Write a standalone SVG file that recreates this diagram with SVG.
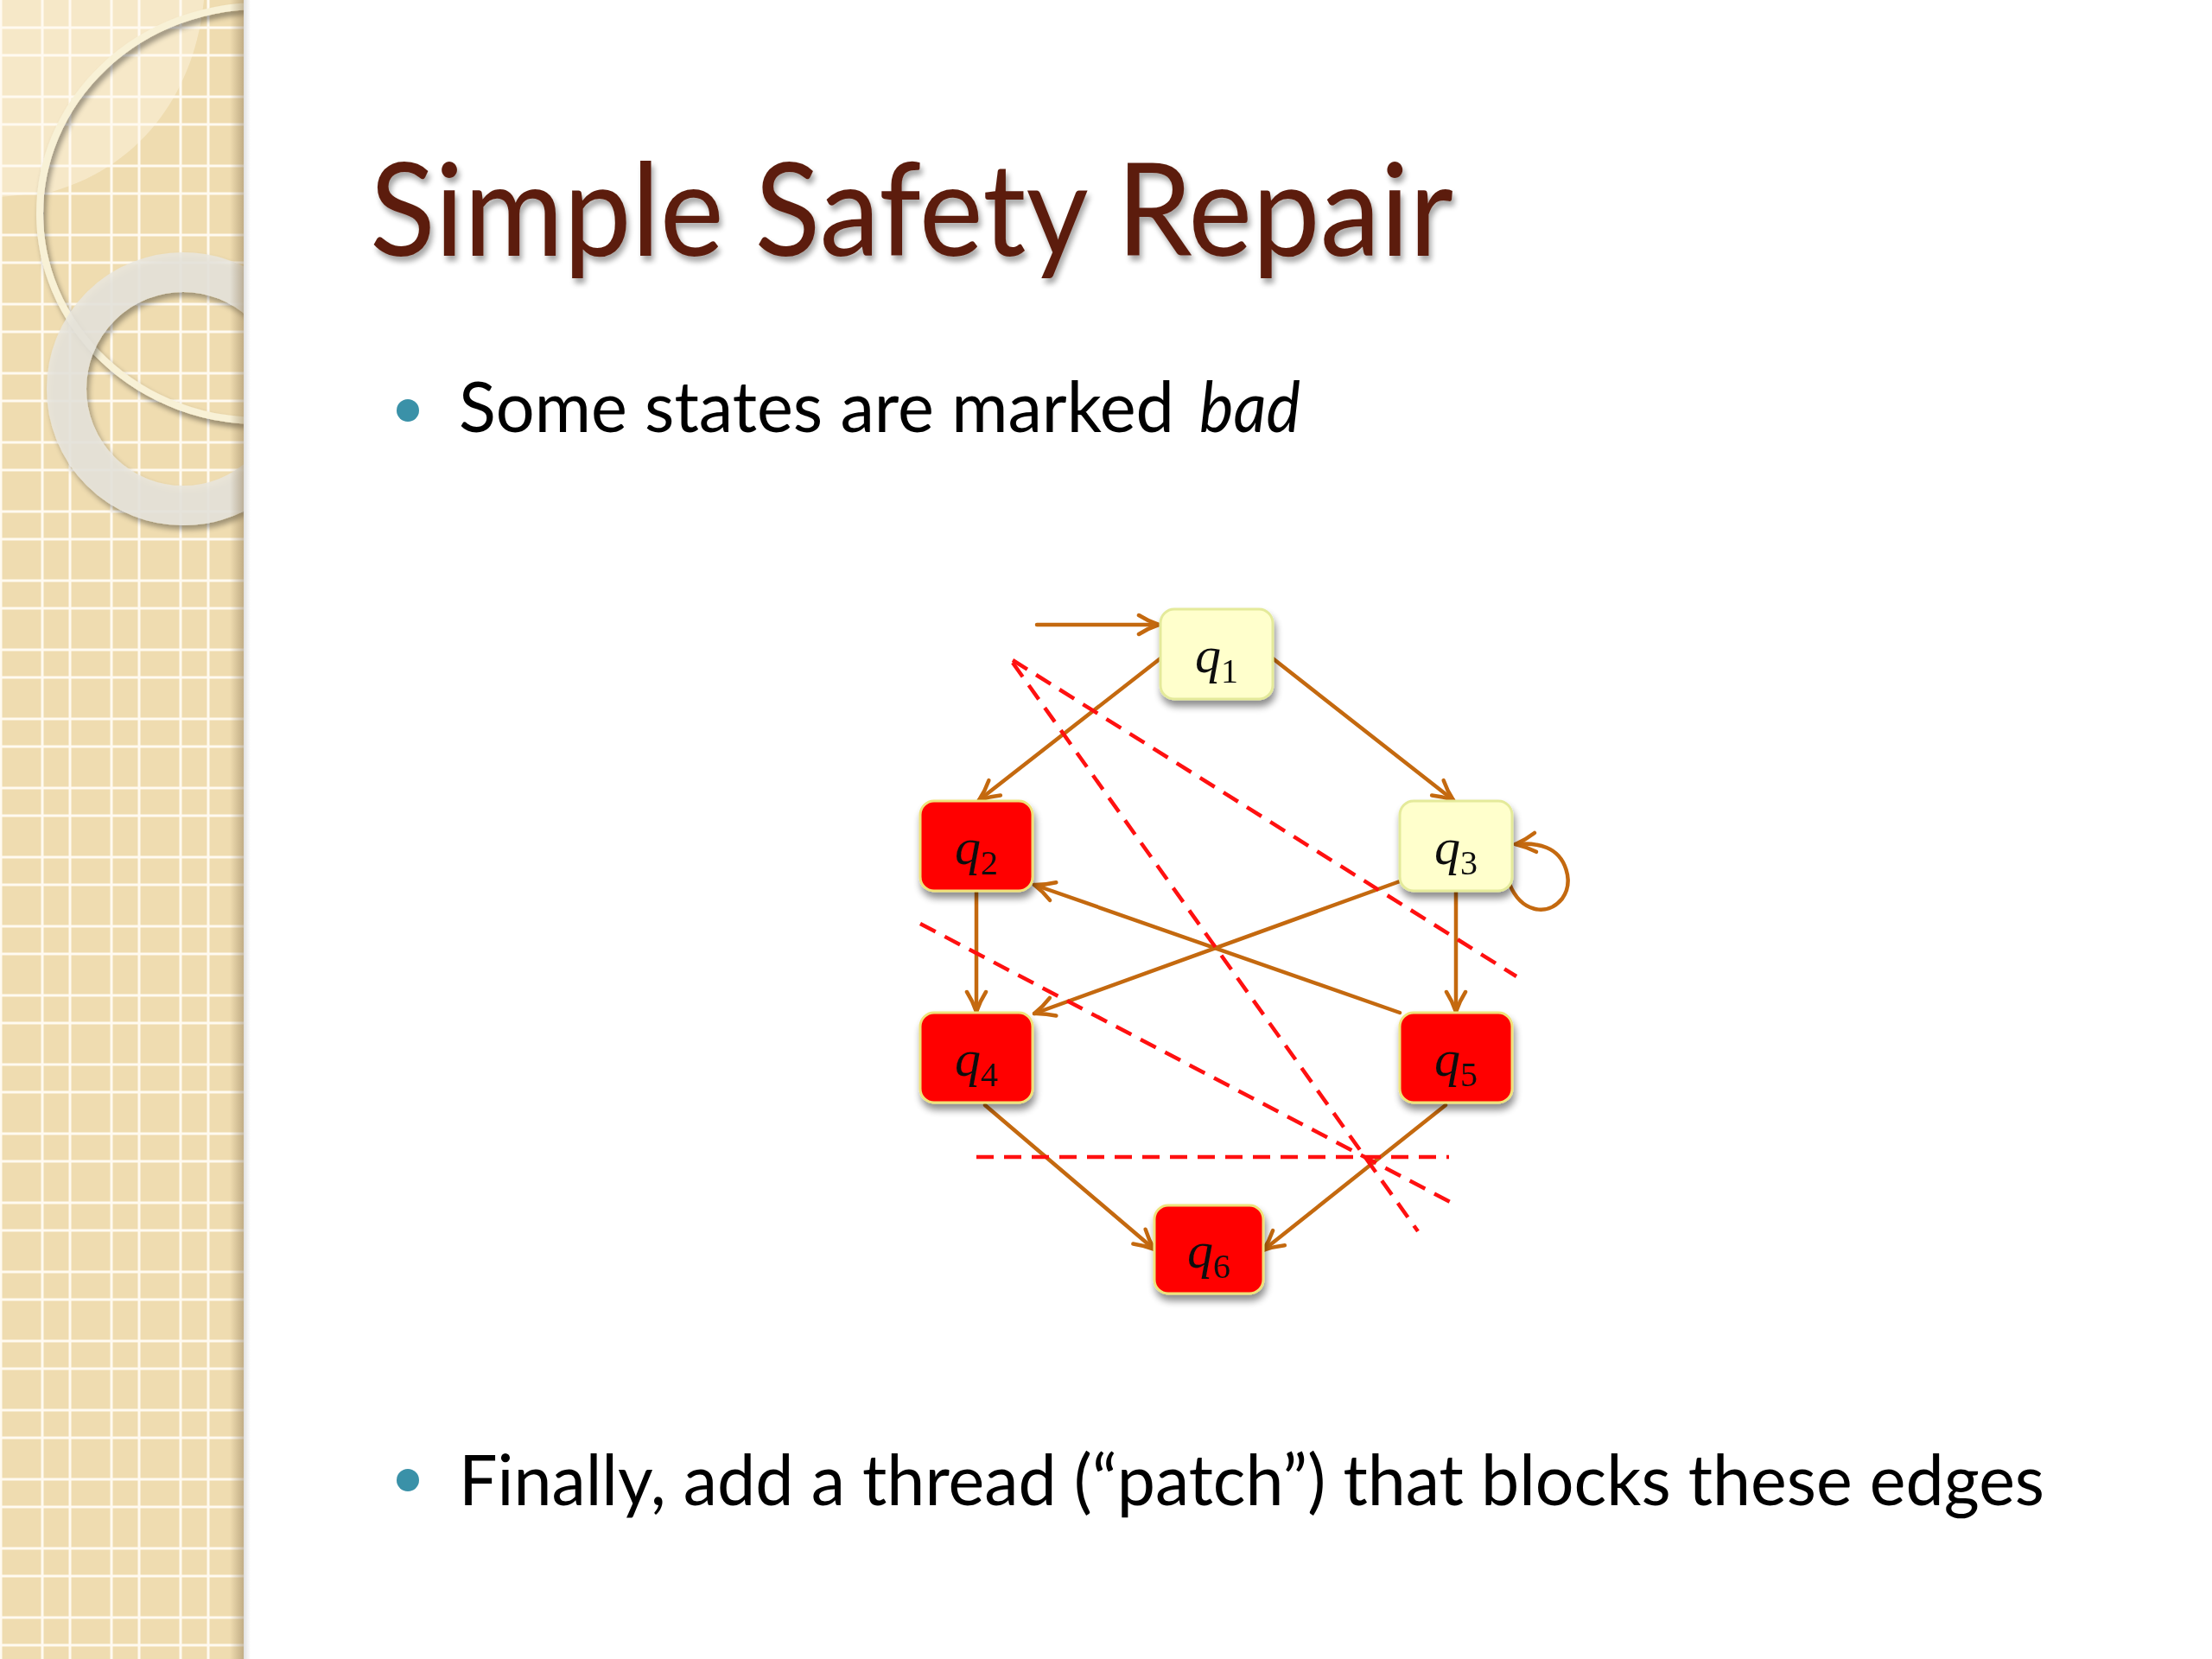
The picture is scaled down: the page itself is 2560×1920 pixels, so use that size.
<svg xmlns="http://www.w3.org/2000/svg" width="2560" height="1920" viewBox="0 0 2560 1920">
<style>
.edge{fill:none;stroke:#c4690f;stroke-width:4.5;stroke-linecap:round}
.cut{fill:none;stroke:#ff1010;stroke-width:4.5;stroke-dasharray:20 12}
.ok{fill:#ffffcc;stroke:#e4ea9a;stroke-width:3}
.bad{fill:#ff0000;stroke:#efe27a;stroke-width:3}
.lbl{font-family:"Liberation Serif","DejaVu Serif",serif;font-size:60px;fill:#111}
.sub{font-size:40px;font-style:normal}
.body{font-family:Lato,"Open Sans",sans-serif;font-size:82px;fill:#000}
.grid{stroke:#fffaf0;stroke-width:3}
</style>
<defs>
<marker id="arr" viewBox="0 0 28 28" refX="26" refY="14" markerWidth="28" markerHeight="28" markerUnits="userSpaceOnUse" orient="auto">
<path d="M3,3 Q14,10 26,14 Q14,18 3,25" fill="none" stroke="#c4690f" stroke-width="4.5" stroke-linecap="round" stroke-linejoin="round"/>
</marker>
<filter id="shd" x="-20%" y="-20%" width="150%" height="160%">
<feGaussianBlur in="SourceAlpha" stdDeviation="4"/>
<feOffset dx="2" dy="7" result="o"/>
<feComponentTransfer><feFuncA type="linear" slope="0.45"/></feComponentTransfer>
<feMerge><feMergeNode/><feMergeNode in="SourceGraphic"/></feMerge>
</filter>
<filter id="tshd" x="-5%" y="-20%" width="110%" height="150%">
<feGaussianBlur in="SourceAlpha" stdDeviation="3"/>
<feOffset dx="3" dy="6"/>
<feComponentTransfer><feFuncA type="linear" slope="0.35"/></feComponentTransfer>
<feMerge><feMergeNode/><feMergeNode in="SourceGraphic"/></feMerge>
</filter>
<filter id="rshd" x="-20%" y="-20%" width="140%" height="140%">
<feGaussianBlur in="SourceAlpha" stdDeviation="3"/>
<feOffset dx="3" dy="5"/>
<feComponentTransfer><feFuncA type="linear" slope="0.4"/></feComponentTransfer>
<feMerge><feMergeNode/><feMergeNode in="SourceGraphic"/></feMerge>
</filter>
<clipPath id="side"><rect x="0" y="0" width="282" height="1920"/></clipPath>
<linearGradient id="edgeg" x1="0" x2="1" y1="0" y2="0">
<stop offset="0" stop-color="#8a7450" stop-opacity="0"/>
<stop offset="1" stop-color="#8a7450" stop-opacity="0.45"/>
</linearGradient>
<linearGradient id="outg" x1="0" x2="1" y1="0" y2="0">
<stop offset="0" stop-color="#000" stop-opacity="0.12"/>
<stop offset="1" stop-color="#000" stop-opacity="0"/>
</linearGradient>
</defs>
<rect width="2560" height="1920" fill="#ffffff"/>
<g id="sidebar">
<rect x="0" y="0" width="282" height="1920" fill="#efdcb0"/>
<g clip-path="url(#side)">
<path d="M0,0 L236,0 C226,100 170,190 60,222 L0,228 Z" fill="#fbf3dc" opacity="0.55"/>
<g class="grid">
<line x1="1" y1="0" x2="1" y2="1920"/><line x1="49" y1="0" x2="49" y2="1920"/>
<line x1="81" y1="0" x2="81" y2="1920"/><line x1="129" y1="0" x2="129" y2="1920"/>
<line x1="161" y1="0" x2="161" y2="1920"/><line x1="209" y1="0" x2="209" y2="1920"/>
<line x1="241" y1="0" x2="241" y2="1920"/>
</g>
<g class="grid" id="hgrid">
<line x1="0" y1="32" x2="282" y2="32"/><line x1="0" y1="64" x2="282" y2="64"/>
<line x1="0" y1="112" x2="282" y2="112"/><line x1="0" y1="144" x2="282" y2="144"/>
<line x1="0" y1="192" x2="282" y2="192"/><line x1="0" y1="224" x2="282" y2="224"/>
<line x1="0" y1="272" x2="282" y2="272"/><line x1="0" y1="304" x2="282" y2="304"/>
<line x1="0" y1="352" x2="282" y2="352"/><line x1="0" y1="384" x2="282" y2="384"/>
<line x1="0" y1="432" x2="282" y2="432"/><line x1="0" y1="464" x2="282" y2="464"/>
<line x1="0" y1="512" x2="282" y2="512"/><line x1="0" y1="544" x2="282" y2="544"/>
<line x1="0" y1="592" x2="282" y2="592"/><line x1="0" y1="624" x2="282" y2="624"/>
<line x1="0" y1="672" x2="282" y2="672"/><line x1="0" y1="704" x2="282" y2="704"/>
<line x1="0" y1="752" x2="282" y2="752"/><line x1="0" y1="784" x2="282" y2="784"/>
<line x1="0" y1="832" x2="282" y2="832"/><line x1="0" y1="864" x2="282" y2="864"/>
<line x1="0" y1="912" x2="282" y2="912"/><line x1="0" y1="944" x2="282" y2="944"/>
<line x1="0" y1="992" x2="282" y2="992"/><line x1="0" y1="1024" x2="282" y2="1024"/>
<line x1="0" y1="1072" x2="282" y2="1072"/><line x1="0" y1="1104" x2="282" y2="1104"/>
<line x1="0" y1="1152" x2="282" y2="1152"/><line x1="0" y1="1184" x2="282" y2="1184"/>
<line x1="0" y1="1232" x2="282" y2="1232"/><line x1="0" y1="1264" x2="282" y2="1264"/>
<line x1="0" y1="1312" x2="282" y2="1312"/><line x1="0" y1="1344" x2="282" y2="1344"/>
<line x1="0" y1="1392" x2="282" y2="1392"/><line x1="0" y1="1424" x2="282" y2="1424"/>
<line x1="0" y1="1472" x2="282" y2="1472"/><line x1="0" y1="1504" x2="282" y2="1504"/>
<line x1="0" y1="1552" x2="282" y2="1552"/><line x1="0" y1="1584" x2="282" y2="1584"/>
<line x1="0" y1="1632" x2="282" y2="1632"/><line x1="0" y1="1664" x2="282" y2="1664"/>
<line x1="0" y1="1712" x2="282" y2="1712"/><line x1="0" y1="1744" x2="282" y2="1744"/>
<line x1="0" y1="1792" x2="282" y2="1792"/><line x1="0" y1="1824" x2="282" y2="1824"/>
<line x1="0" y1="1872" x2="282" y2="1872"/><line x1="0" y1="1904" x2="282" y2="1904"/>
</g>
<ellipse cx="300" cy="247" rx="254" ry="240" fill="none" stroke="#f8f1d6" stroke-width="8" filter="url(#rshd)"/>
<circle cx="212" cy="450" r="135" fill="none" stroke="#e9e6de" stroke-opacity="0.85" stroke-width="46" filter="url(#rshd)"/>
<rect x="266" y="0" width="16" height="1920" fill="url(#edgeg)"/>
</g>
<rect x="282" y="0" width="8" height="1920" fill="url(#outg)"/>
</g>
<g id="title">
<text x="428" y="296" font-family="Lato,'Open Sans',sans-serif" font-size="150" fill="#5b1f0f" textLength="1254" lengthAdjust="spacingAndGlyphs" filter="url(#tshd)">Simple Safety Repair</text>
</g>
<g id="bullets">
<circle cx="472" cy="475" r="13" fill="#3a91a8"/>
<text class="body" x="531" y="500" textLength="828" lengthAdjust="spacingAndGlyphs">Some states are marked</text>
<text class="body" x="1388" y="500" font-style="italic" textLength="117" lengthAdjust="spacingAndGlyphs">bad</text>
<circle cx="472" cy="1713" r="13" fill="#3a91a8"/>
<text class="body" x="531" y="1742" textLength="1835" lengthAdjust="spacingAndGlyphs">Finally, add a thread (“patch”) that blocks these edges</text>
</g>
<g id="connectors">
<line class="edge" x1="1200" y1="723" x2="1341" y2="723" marker-end="url(#arr)"/>
<line class="edge" x1="1343" y1="762" x2="1133" y2="926" marker-end="url(#arr)"/>
<line class="edge" x1="1473" y1="762" x2="1682" y2="926" marker-end="url(#arr)"/>
<line class="edge" x1="1130" y1="1032" x2="1130" y2="1171" marker-end="url(#arr)"/>
<line class="edge" x1="1685" y1="1032" x2="1685" y2="1171" marker-end="url(#arr)"/>
<line class="edge" x1="1620" y1="1172" x2="1197" y2="1024" marker-end="url(#arr)"/>
<line class="edge" x1="1620" y1="1020" x2="1197" y2="1173" marker-end="url(#arr)"/>
<line class="edge" x1="1140" y1="1279" x2="1336" y2="1446" marker-end="url(#arr)"/>
<line class="edge" x1="1673" y1="1279" x2="1462" y2="1447" marker-end="url(#arr)"/>
<path class="edge" d="M1747,1023 C1760,1055 1790,1062 1808,1040 C1822,1020 1812,990 1790,981 C1778,976 1765,976 1754,977" marker-end="url(#arr)"/>
</g>
<g id="nodes">
<g id="q1" filter="url(#shd)"><rect class="ok" x="1343" y="705" width="130" height="104" rx="16"/><text class="lbl" x="1408" y="778" text-anchor="middle"><tspan font-style="italic">q</tspan><tspan class="sub" dy="12">1</tspan></text></g>
<g id="q2" filter="url(#shd)"><rect class="bad" x="1065" y="927" width="130" height="104" rx="16"/><text class="lbl" x="1130" y="1000" text-anchor="middle"><tspan font-style="italic">q</tspan><tspan class="sub" dy="12">2</tspan></text></g>
<g id="q3" filter="url(#shd)"><rect class="ok" x="1620" y="927" width="130" height="104" rx="16"/><text class="lbl" x="1685" y="1000" text-anchor="middle"><tspan font-style="italic">q</tspan><tspan class="sub" dy="12">3</tspan></text></g>
<g id="q4" filter="url(#shd)"><rect class="bad" x="1065" y="1172" width="130" height="104" rx="16"/><text class="lbl" x="1130" y="1245" text-anchor="middle"><tspan font-style="italic">q</tspan><tspan class="sub" dy="12">4</tspan></text></g>
<g id="q5" filter="url(#shd)"><rect class="bad" x="1620" y="1172" width="130" height="104" rx="16"/><text class="lbl" x="1685" y="1245" text-anchor="middle"><tspan font-style="italic">q</tspan><tspan class="sub" dy="12">5</tspan></text></g>
<g id="q6" filter="url(#shd)"><rect class="bad" x="1336" y="1395" width="126" height="102" rx="16"/><text class="lbl" x="1399" y="1467" text-anchor="middle"><tspan font-style="italic">q</tspan><tspan class="sub" dy="12">6</tspan></text></g>
</g>
<g id="cuts">
<line class="cut" x1="1172" y1="764" x2="1755" y2="1130"/>
<line class="cut" x1="1172" y1="767" x2="1641" y2="1425"/>
<line class="cut" x1="1065" y1="1069" x2="1682" y2="1393"/>
<line class="cut" x1="1130" y1="1339" x2="1677" y2="1339"/>
</g>
</svg>
